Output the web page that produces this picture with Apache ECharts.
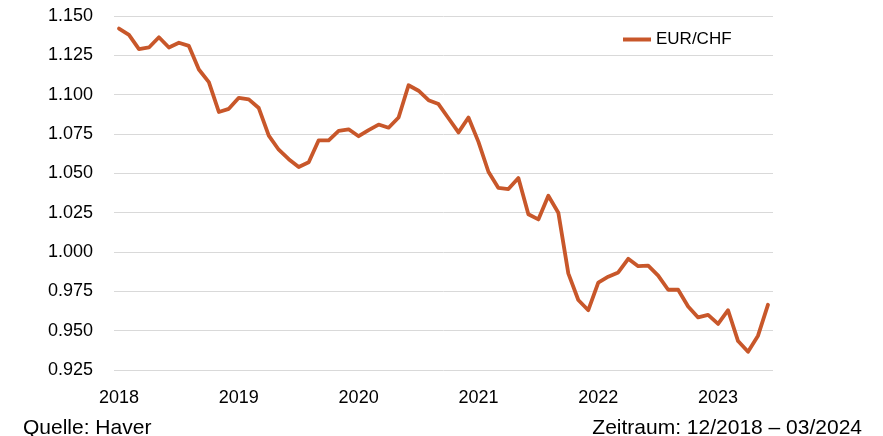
<!DOCTYPE html>
<html>
<head>
<meta charset="utf-8">
<script src="https://cdn.jsdelivr.net/npm/echarts@6/dist/echarts.min.js"></script>
<style>
  html, body { margin: 0; padding: 0; background: #fff; }
  #main { width: 883px; height: 436px; }
</style>
</head>
<body>
<div id="main"></div>
<script>
// year labels shown on the x axis, one every 12 months
const years = ['2018', '2019', '2020', '2021', '2022', '2023']

// monthly EUR/CHF values
const eurChf = [
  1.142, 1.138, 1.129, 1.130, 1.1365, 1.130, 1.133, 1.131, 1.116, 1.108, 1.089, 1.091,
  1.098, 1.097, 1.0915, 1.074, 1.065, 1.059, 1.054, 1.057, 1.071, 1.071, 1.077, 1.078,
  1.0736, 1.0775, 1.081, 1.079, 1.0855, 1.106, 1.1025, 1.0965, 1.094, 1.085, 1.076, 1.0855,
  1.070, 1.051, 1.0407, 1.040, 1.047, 1.024, 1.0207, 1.0357, 1.025, 0.9864, 0.9695, 0.963,
  0.9805, 0.9843, 0.987, 0.9957, 0.991, 0.9913, 0.985, 0.976, 0.976, 0.9654, 0.9584, 0.960,
  0.9543, 0.963, 0.9434, 0.9366, 0.9468, 0.9665
]

const yMin = 0.925
const yMax = 1.150
const yStep = 0.025

// month categories: year + month number
const categories = []
years.forEach(y => {
  for (let m = 1; m <= 12; m++) categories.push(y + '-' + (m < 10 ? '0' + m : m))
})
const months = categories.slice(0, eurChf.length)

const chart = echarts.init(document.getElementById('main'), null, { renderer: 'canvas' })

const lineColor = '#C8572A'
const font = '"Liberation Sans", Arial, sans-serif'

const option = {
  animation: false,
  textStyle: { fontFamily: font },
  title: [
    {
      text: 'Quelle: Haver',
      left: 18,
      top: 413,
      textStyle: { fontSize: 21, fontWeight: 'normal', color: '#000', fontFamily: font }
    },
    {
      text: 'Zeitraum: 12/2018 – 03/2024',
      right: 16,
      top: 413,
      textStyle: { fontSize: 21, fontWeight: 'normal', color: '#000', fontFamily: font }
    }
  ],
  legend: {
    left: 618,
    top: 26,
    icon: 'rect',
    itemWidth: 28,
    itemHeight: 4,
    textStyle: { fontSize: 17, color: '#000', fontFamily: font },
    data: ['EUR/CHF']
  },
  grid: {
    left: 114,
    right: 110,
    top: 16,
    bottom: 66
  },
  xAxis: {
    type: 'category',
    boundaryGap: true,
    data: months,
    axisLine: { show: false },
    axisTick: { show: false },
    axisLabel: {
      interval: 11,
      margin: 19,
      fontSize: 18,
      color: '#000',
      fontFamily: font,
      formatter: v => v.slice(0, 4)
    }
  },
  yAxis: {
    type: 'value',
    min: yMin,
    max: yMax,
    interval: yStep,
    axisLine: { show: false },
    axisTick: { show: false },
    axisLabel: {
      margin: 21,
      fontSize: 18,
      color: '#000',
      fontFamily: font,
      formatter: v => v.toFixed(3)
    },
    splitLine: { lineStyle: { color: '#d9d9d9', width: 1 } }
  },
  series: [
    {
      name: 'EUR/CHF',
      type: 'line',
      data: eurChf,
      symbol: 'none',
      smooth: false,
      itemStyle: { color: lineColor },
      lineStyle: { color: lineColor, width: 3.8, cap: 'round', join: 'round' }
    }
  ]
}

chart.setOption(option)
</script>
</body>
</html>
